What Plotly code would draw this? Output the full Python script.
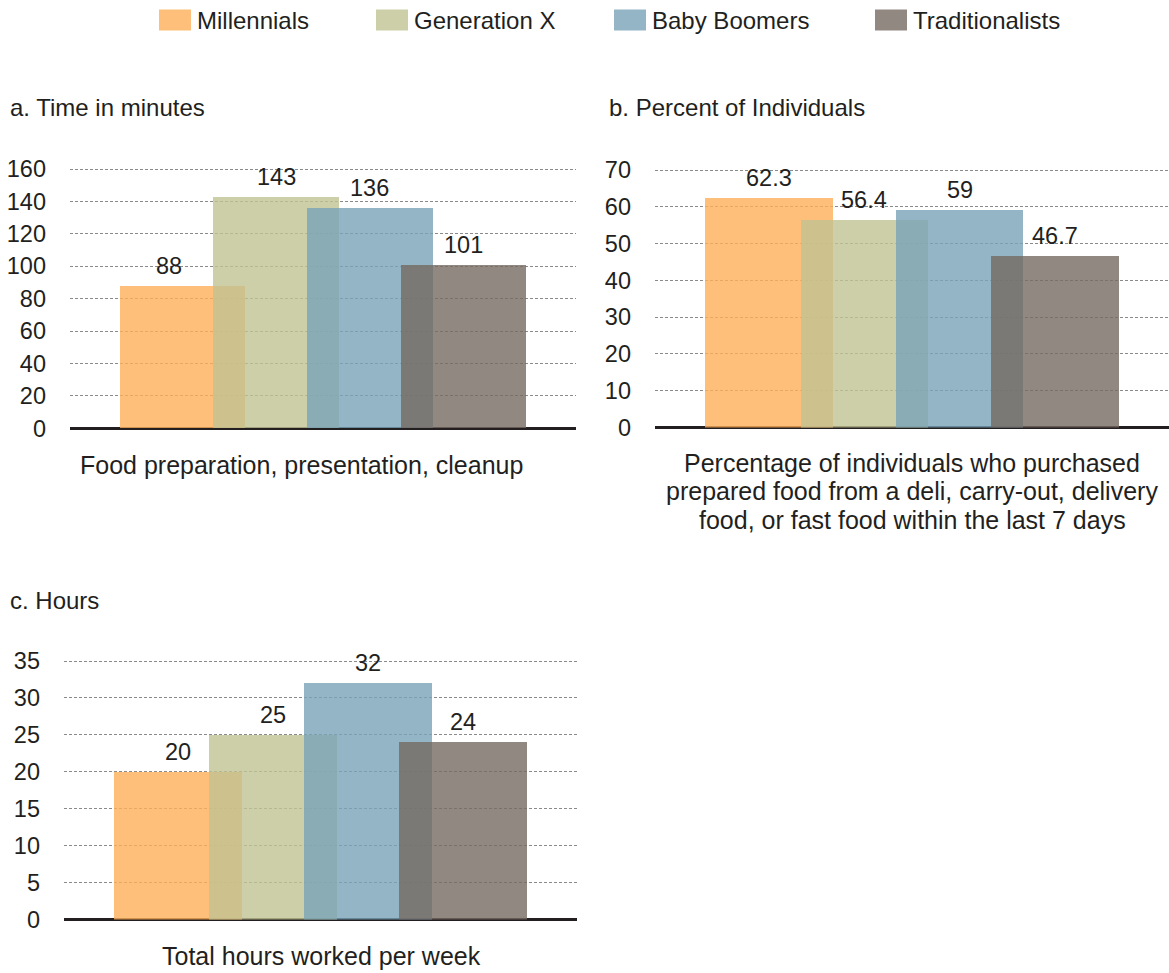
import plotly.graph_objects as go

# ---------------- data ----------------
generations = ["Millennials", "Generation X", "Baby Boomers", "Traditionalists"]
time_minutes = [88, 143, 136, 101]
pct_individuals = [62.3, 56.4, 59, 46.7]
hours_worked = [20, 25, 32, 24]

panel_titles = ["a. Time in minutes", "b. Percent of Individuals", "c. Hours"]
desc_a = ["Food preparation, presentation, cleanup"]
desc_b = ["Percentage of individuals who purchased",
          "prepared food from a deli, carry-out, delivery",
          "food, or fast food within the last 7 days"]
desc_c = ["Total hours worked per week"]
y_ticks_a = [0, 20, 40, 60, 80, 100, 120, 140, 160]
y_ticks_b = [0, 10, 20, 30, 40, 50, 60, 70]
y_ticks_c = [0, 5, 10, 15, 20, 25, 30, 35]

# ---------------- style ----------------
W, H = 1169, 973
FONT = "Liberation Sans, Arial, Helvetica, sans-serif"
INK = "#231F20"
FS_TICK = 23.5
FS_TITLE = 24
FS_DESC = 25
colors = [
    "rgba(253,175,89,0.8)",
    "rgba(193,195,146,0.8)",
    "rgba(120,163,184,0.8)",
    "rgba(118,106,98,0.8)",
]
BAR_W = 1.34
PAD_PX = 2  # keep top gridline just inside the plotting area
LABEL_YSHIFT = 5
# horizontal nudges of value labels as placed in the original (panel, index) -> px
label_xshift = {(0, 0): -13}


def px(xp):
    return xp / W


def py(yp):
    return 1 - yp / H


fig = go.Figure()

panels = [
    (time_minutes, y_ticks_a, "x", "y"),
    (pct_individuals, y_ticks_b, "x2", "y2"),
    (hours_worked, y_ticks_c, "x3", "y3"),
]

annotations = []
for p, (vals, ticks, xa, ya) in enumerate(panels):
    for i, gen in enumerate(generations):
        fig.add_trace(go.Bar(
            x=[gen], y=[vals[i]], width=[BAR_W], name=gen,
            marker=dict(color=colors[i], line=dict(width=0)),
            xaxis=xa, yaxis=ya, showlegend=False,
            hovertemplate="%{x}: %{y}<extra></extra>",
        ))
        annotations.append(dict(
            text=f"{vals[i]:g}", x=gen, y=vals[i], xref=xa, yref=ya,
            xanchor="center", yanchor="bottom", showarrow=False,
            yshift=LABEL_YSHIFT, xshift=label_xshift.get((p, i), 0),
            font=dict(family=FONT, size=FS_TICK, color=INK)))

# pixel-measured layout: (x_left, x_right, y_zero, y_top)
geom = {
    "a": (70, 576, 428.3, 169),
    "b": (655, 1169, 427.5, 170),
    "c": (64, 577, 919.5, 661),
}


def xaxis_cfg(g, anchor):
    return dict(domain=[px(g[0]), min(1.0, px(g[1]))], anchor=anchor, type="category",
                categoryorder="array", categoryarray=generations,
                range=[-1.2, 4.2], showticklabels=False, showgrid=False,
                zeroline=False, showline=False, ticks="", fixedrange=True)


def yaxis_cfg(g, anchor, ticks):
    top = ticks[-1]
    span_px = g[2] - g[3]
    rtop = top * (1 + PAD_PX / span_px)
    return dict(domain=[py(g[2]), py(g[3] - PAD_PX)], anchor=anchor, range=[0, rtop],
                tickvals=ticks, ticktext=[str(t) for t in ticks],
                tickfont=dict(family=FONT, size=FS_TICK, color=INK),
                showgrid=True, gridcolor="#8a8a8a", gridwidth=1,
                griddash="3px,2px", zeroline=True, zerolinecolor=INK,
                zerolinewidth=3, showline=False, ticks="",
                ticklabelstandoff=23, fixedrange=True)


fig.update_layout(
    width=W, height=H,
    margin=dict(l=0, r=0, t=0, b=0, autoexpand=False),
    paper_bgcolor="white", plot_bgcolor="white",
    barmode="overlay", bargap=0,
    showlegend=False,
    font=dict(family=FONT, size=FS_TICK, color=INK),
    xaxis=xaxis_cfg(geom["a"], "y"),
    yaxis=yaxis_cfg(geom["a"], "x", y_ticks_a),
    xaxis2=xaxis_cfg(geom["b"], "y2"),
    yaxis2=yaxis_cfg(geom["b"], "x2", y_ticks_b),
    xaxis3=xaxis_cfg(geom["c"], "y3"),
    yaxis3=yaxis_cfg(geom["c"], "x3", y_ticks_c),
)

# panel titles
title_pos = [(8, 107), (607, 107), (8, 600)]
for t, (tx, ty) in zip(panel_titles, title_pos):
    annotations.append(dict(text=t, x=px(tx), y=py(ty), xref="paper", yref="paper",
                            xanchor="left", yanchor="middle", showarrow=False,
                            font=dict(family=FONT, size=FS_TITLE, color=INK)))

# category description labels (one annotation per line)
desc_layout = [(desc_a, 301, 464.5), (desc_b, 912, 463), (desc_c, 321, 956)]
LINE_STEP = 28.5
for lines, cx, cy in desc_layout:
    for k, line in enumerate(lines):
        annotations.append(dict(text=line, x=px(cx), y=py(cy + k * LINE_STEP),
                                xref="paper", yref="paper",
                                xanchor="center", yanchor="middle", showarrow=False,
                                font=dict(family=FONT, size=FS_DESC, color=INK)))

# custom legend (large swatches like the reference)
legend_x = [159, 376, 614, 875]
shapes = []
for gen, col, lx in zip(generations, colors, legend_x):
    shapes.append(dict(type="rect", xref="paper", yref="paper",
                       x0=px(lx), x1=px(lx + 32), y0=py(30.5), y1=py(9.5),
                       fillcolor=col, line=dict(width=0)))
    annotations.append(dict(text=gen, x=px(lx + 36), y=py(20), xref="paper", yref="paper",
                            xanchor="left", yanchor="middle", showarrow=False,
                            font=dict(family=FONT, size=FS_TITLE, color=INK)))

fig.update_layout(annotations=annotations, shapes=shapes)

# pin the figure to the top-left corner of the page (no body margin / scrollbars)
pin_js = (
    "document.body.style.margin='0';"
    "document.body.style.overflow='hidden';"
    "var gd=document.getElementById('{plot_id}');"
    "gd.style.position='fixed';gd.style.top='0';gd.style.left='0';"
)

fig.write_html("out.html", post_script=pin_js, config={"displayModeBar": False})
